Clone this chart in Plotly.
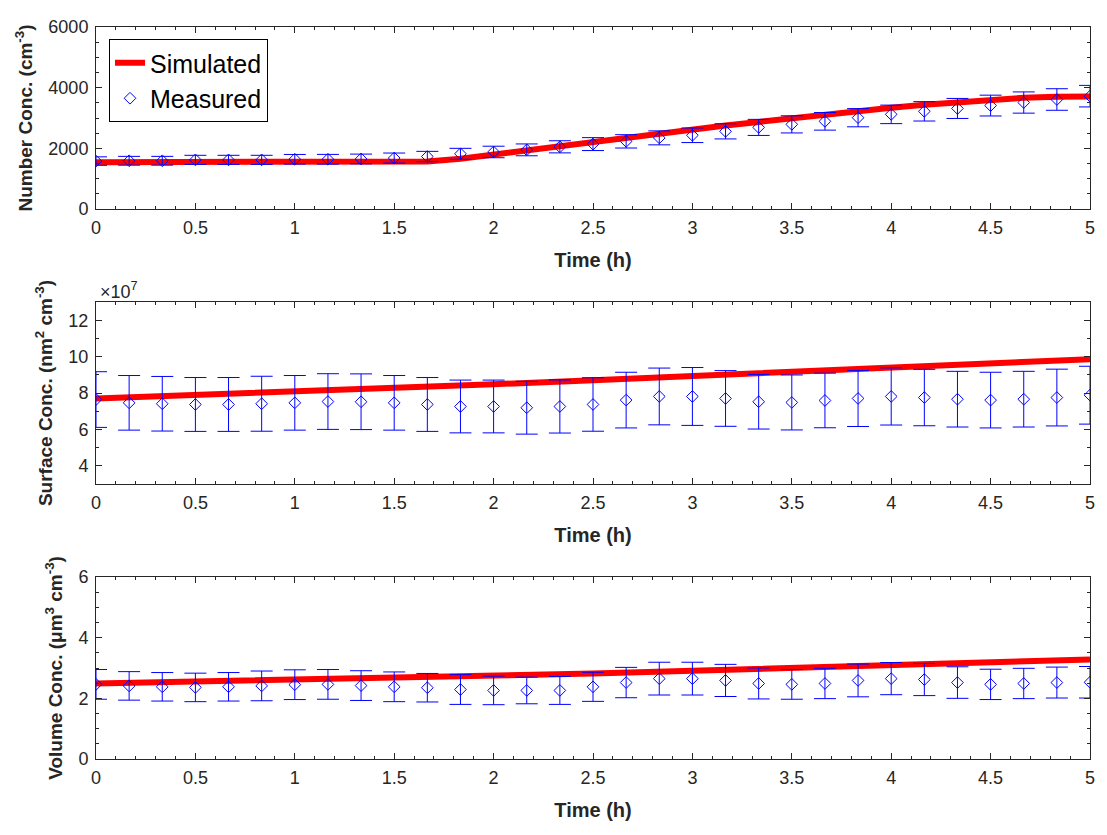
import plotly.graph_objects as go

# ---------------- data ----------------
time_meas = [0, 0.1667, 0.3333, 0.5, 0.6667, 0.8333, 1.0, 1.1667, 1.3333, 1.5,
             1.6667, 1.8333, 2.0, 2.1667, 2.3333, 2.5, 2.6667, 2.8333, 3.0, 3.1667,
             3.3333, 3.5, 3.6667, 3.8333, 4.0, 4.1667, 4.3333, 4.5, 4.6667, 4.8333, 5.0]

number_meas = [1580, 1590, 1590, 1620, 1620, 1620, 1640, 1640, 1650, 1680,
               1730, 1820, 1880, 1950, 2050, 2140, 2230, 2345, 2430, 2560,
               2690, 2790, 2890, 3010, 3120, 3220, 3315, 3410, 3510, 3610, 3720]
number_err = [140, 145, 145, 150, 150, 150, 158, 160, 160, 165,
              170, 180, 190, 195, 200, 213, 220, 230, 240, 250,
              265, 283, 290, 300, 305, 320, 330, 343, 350, 355, 355]
number_sim = [1540, 1540, 1540, 1540, 1540, 1540, 1540, 1540, 1545, 1550,
              1570, 1660, 1800, 1950, 2090, 2200, 2330, 2490, 2620, 2750,
              2870, 3000, 3120, 3240, 3340, 3440, 3530, 3610, 3665, 3700, 3710]

# surface concentration in units of 1e7 nm^2 cm^-3
surface_meas = [7.64, 7.46, 7.41, 7.37, 7.37, 7.41, 7.46, 7.53, 7.52, 7.46,
                7.37, 7.26, 7.26, 7.19, 7.26, 7.37, 7.61, 7.81, 7.81, 7.70,
                7.52, 7.48, 7.59, 7.70, 7.81, 7.75, 7.66, 7.61, 7.66, 7.75, 7.88]
surface_err = [1.53, 1.50, 1.50, 1.48, 1.48, 1.51, 1.50, 1.53, 1.53, 1.50,
               1.48, 1.45, 1.45, 1.45, 1.46, 1.47, 1.53, 1.56, 1.59, 1.53,
               1.50, 1.51, 1.50, 1.54, 1.57, 1.55, 1.53, 1.53, 1.53, 1.56, 1.59]

time_sim = [0, 0.5, 1.0, 1.5, 2.0, 2.5, 3.0, 3.5, 4.0, 4.5, 5.0]
surface_sim = [7.70, 7.88, 8.08, 8.27, 8.48, 8.70, 8.92, 9.15, 9.38, 9.62, 9.86]

volume_meas = [2.46, 2.41, 2.38, 2.36, 2.38, 2.41, 2.45, 2.46, 2.42, 2.38,
               2.35, 2.29, 2.26, 2.26, 2.26, 2.38, 2.52, 2.65, 2.65, 2.59,
               2.49, 2.46, 2.49, 2.59, 2.65, 2.62, 2.52, 2.46, 2.49, 2.52, 2.53]
volume_err = [0.49, 0.47, 0.47, 0.47, 0.47, 0.49, 0.49, 0.49, 0.49, 0.49,
              0.47, 0.49, 0.47, 0.44, 0.46, 0.48, 0.50, 0.54, 0.54, 0.53,
              0.51, 0.49, 0.50, 0.54, 0.53, 0.53, 0.52, 0.50, 0.50, 0.51, 0.52]
volume_sim = [2.49, 2.55, 2.61, 2.67, 2.74, 2.82, 2.91, 3.00, 3.09, 3.18, 3.28]

y_titles = ["<b>Number Conc. (cm<sup>-3</sup>)</b>",
            "<b>Surface Conc. (nm<sup>2</sup> cm<sup>-3</sup>)</b>",
            "<b>Volume Conc. (μm<sup>3</sup> cm<sup>-3</sup>)</b>"]
x_title = "<b>Time (h)</b>"

# ---------------- figure ----------------
OFF = 8                      # default page body margin
W, H = 1107 - OFF, 835 - OFF
ML, MR, MT, MB = 96 - OFF, 17, 27 - OFF, 76
PW, PH = W - ML - MR, H - MT - MB
AX = "#262626"
FONT = "Liberation Sans, Arial, sans-serif"


def ydom(top_px, bottom_px):
    # pixel rows of the screen (page) -> domain fractions of plot area
    top_px -= OFF
    bottom_px -= OFF
    return [(H - MB - bottom_px) / PH, (H - MB - top_px) / PH]


fig = go.Figure()

panels = [
    (time_meas, number_sim, number_meas, number_err),
    (time_sim, surface_sim, surface_meas, surface_err),
    (time_sim, volume_sim, volume_meas, volume_err),
]

for i, (ts, sim, meas, err) in enumerate(panels):
    sfx = "" if i == 0 else str(i + 1)
    fig.add_trace(go.Scatter(
        x=ts, y=sim, mode="lines", name="Simulated",
        line=dict(color="#FF0000", width=6),
        xaxis="x" + sfx, yaxis="y" + sfx, showlegend=(i == 0)))
    fig.add_trace(go.Scatter(
        x=time_meas, y=meas, mode="markers", name="Measured",
        marker=dict(symbol="diamond-open", size=9, color="#0000FF",
                    line=dict(width=1, color="#0000FF")),
        error_y=dict(type="data", array=err, visible=True, color="#0000FF",
                     thickness=1, width=11),
        xaxis="x" + sfx, yaxis="y" + sfx, showlegend=(i == 0)))

y_doms = [ydom(27, 209), ydom(302, 484), ydom(577, 759)]
y_ranges = [[0, 6000], [3, 13], [0, 6]]
y_dticks = [2000, 2, 2]
y_minor = [500, 1, 0.5]

layout = dict(
    width=W, height=H,
    margin=dict(l=ML, r=MR, t=MT, b=MB, autoexpand=False),
    paper_bgcolor="white", plot_bgcolor="white",
    font=dict(family=FONT, size=18, color=AX),
    showlegend=True,
    legend=dict(x=(109 - 96) / PW, y=(H - MB - (39 - OFF)) / PH,
                xanchor="left", yanchor="top",
                bgcolor="white", bordercolor="#000000", borderwidth=1,
                font=dict(size=25, color="#000000"),
                tracegroupgap=0, itemwidth=30),
)

for i in range(3):
    sfx = "" if i == 0 else str(i + 1)
    layout["xaxis" + sfx] = dict(
        domain=[0, 1], anchor="y" + sfx, range=[0, 5], automargin=False,
        dtick=0.5, tick0=0, ticks="inside", ticklen=6, tickcolor=AX,
        showline=True, linecolor=AX, linewidth=1, mirror="allticks",
        showgrid=False, zeroline=False, ticklabelstandoff=2,
        minor=dict(dtick=0.1, ticks="inside", ticklen=3, tickcolor=AX, showgrid=False),
        tickfont=dict(size=18, color=AX, family=FONT),
        title=dict(text=x_title, font=dict(size=20, color=AX, family=FONT), standoff=16),
    )
    layout["yaxis" + sfx] = dict(
        domain=y_doms[i], anchor="x" + sfx, range=y_ranges[i], automargin=False,
        dtick=y_dticks[i], tick0=0, ticks="inside", ticklen=6, tickcolor=AX,
        showline=True, linecolor=AX, linewidth=1, mirror="allticks",
        showgrid=False, zeroline=False, tickformat="d", ticklabelstandoff=3,
        minor=dict(dtick=y_minor[i], ticks="inside", ticklen=3, tickcolor=AX, showgrid=False),
        tickfont=dict(size=18, color=AX, family=FONT),
        title=dict(text=y_titles[i], font=dict(size=19, color=AX, family=FONT), standoff=10),
    )

layout["annotations"] = [dict(
    text="×10<sup>7</sup>", xref="paper", yref="paper",
    x=(98 - 96) / PW, y=(H - MB - (290 - OFF)) / PH, xanchor="left", yanchor="middle",
    showarrow=False, font=dict(size=18, color=AX, family=FONT))]

fig.update_layout(**layout)
fig.write_html("out.html")
